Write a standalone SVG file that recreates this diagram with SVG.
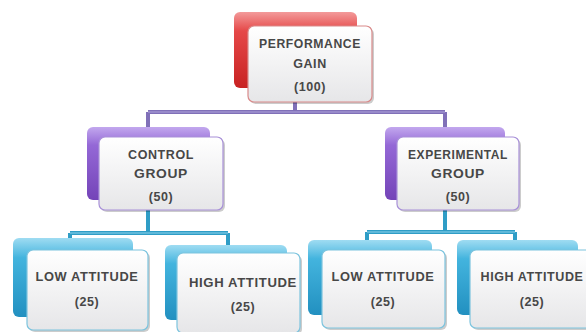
<svg xmlns="http://www.w3.org/2000/svg" width="586" height="332" viewBox="0 0 586 332">
<defs>
<linearGradient id="gRed" x1="0" y1="0" x2="0" y2="1"><stop offset="0" stop-color="#f39a9a"/><stop offset="0.25" stop-color="#e54848"/><stop offset="1" stop-color="#c82222"/></linearGradient>
<linearGradient id="gPur" x1="0" y1="0" x2="0" y2="1"><stop offset="0" stop-color="#c2a8ee"/><stop offset="0.25" stop-color="#9468d6"/><stop offset="1" stop-color="#7444b8"/></linearGradient>
<linearGradient id="gCyan" x1="0" y1="0" x2="0" y2="1"><stop offset="0" stop-color="#9fdcf2"/><stop offset="0.25" stop-color="#43b4de"/><stop offset="1" stop-color="#2290c0"/></linearGradient>
<linearGradient id="gFront" x1="0" y1="0" x2="0" y2="1"><stop offset="0" stop-color="#ffffff"/><stop offset="1" stop-color="#e6e6e8"/></linearGradient>
<style>
.front{fill:url(#gFront);stroke-width:1.2}
.shadow{fill:#000;opacity:0.2}
.red{fill:url(#gRed)}
.pur{fill:url(#gPur)}
.cyan{fill:url(#gCyan)}
.fr{stroke:#d98a8a}
.fp{stroke:#a890d8}
.fc{stroke:#7cc4de}
text{font-family:"Liberation Sans",Arial,sans-serif;font-size:12.5px;font-weight:bold;fill:#474747;text-anchor:middle;letter-spacing:0.6px}
.cp{fill:none;stroke:#8070b8;stroke-width:4}
.cpi{fill:none;stroke:#b0a4dc;stroke-width:1.2}
.cc{fill:none;stroke:#2f9dc6;stroke-width:4}
.cci{fill:none;stroke:#8fd4ec;stroke-width:1.2}
</style>
</defs>

<g id="connectors">
<path class="cp" d="M295 102 V112 M148 112 H445 M148 112 V128 M445 112 V128"/>
<path class="cpi" d="M148 112 H445"/>
<path class="cc" d="M148 210 V233 M70 233 H228 M70 233 V240 M228 233 V246 M445 210 V232 M367 232 H515 M367 232 V241 M515 232 V241"/>
<path class="cci" d="M70 233 H228 M367 232 H515"/>
</g>

<g id="performance-gain">
<rect class="red" x="234" y="12" width="123" height="76" rx="6"/>
<rect class="shadow" x="250" y="28" width="124" height="76" rx="6"/>
<rect class="front fr" x="248" y="26" width="124" height="76" rx="6"/>
<text x="310" y="48" textLength="102" lengthAdjust="spacingAndGlyphs">PERFORMANCE</text>
<text x="310" y="68">GAIN</text>
<text x="310" y="91">(100)</text>
</g>

<g id="control-group">
<rect class="pur" x="87" y="127" width="123" height="73" rx="6"/>
<rect class="shadow" x="101" y="139" width="124" height="73" rx="6"/>
<rect class="front fp" x="99" y="137" width="124" height="73" rx="6"/>
<text x="161" y="159" textLength="66" lengthAdjust="spacingAndGlyphs">CONTROL</text>
<text x="161" y="178" textLength="54" lengthAdjust="spacingAndGlyphs">GROUP</text>
<text x="161" y="201">(50)</text>
</g>

<g id="experimental-group">
<rect class="pur" x="385" y="127" width="120" height="73" rx="6"/>
<rect class="shadow" x="399" y="139" width="122" height="73" rx="6"/>
<rect class="front fp" x="397" y="137" width="122" height="73" rx="6"/>
<text x="458" y="159" textLength="100" lengthAdjust="spacingAndGlyphs">EXPERIMENTAL</text>
<text x="458" y="178" textLength="54" lengthAdjust="spacingAndGlyphs">GROUP</text>
<text x="458" y="201">(50)</text>
</g>

<g id="control-low">
<rect class="cyan" x="13" y="238" width="120" height="79" rx="6"/>
<rect class="shadow" x="29" y="252" width="121" height="80" rx="6"/>
<rect class="front fc" x="27" y="250" width="121" height="80" rx="6"/>
<text x="87" y="281" textLength="103" lengthAdjust="spacingAndGlyphs">LOW ATTITUDE</text>
<text x="87" y="306">(25)</text>
</g>

<g id="control-high">
<rect class="cyan" x="165" y="245" width="122" height="75" rx="6"/>
<rect class="shadow" x="179" y="255" width="123" height="80" rx="6"/>
<rect class="front fc" x="177" y="253" width="123" height="80" rx="6"/>
<text x="243" y="287" textLength="108" lengthAdjust="spacingAndGlyphs">HIGH ATTITUDE</text>
<text x="243" y="311">(25)</text>
</g>

<g id="experimental-low">
<rect class="cyan" x="308" y="240" width="124" height="75" rx="6"/>
<rect class="shadow" x="324" y="252" width="123" height="78" rx="6"/>
<rect class="front fc" x="322" y="250" width="123" height="78" rx="6"/>
<text x="383" y="281" textLength="103" lengthAdjust="spacingAndGlyphs">LOW ATTITUDE</text>
<text x="383" y="306">(25)</text>
</g>

<g id="experimental-high">
<rect class="cyan" x="457" y="240" width="121" height="75" rx="6"/>
<rect class="shadow" x="472" y="252" width="122" height="78" rx="6"/>
<rect class="front fc" x="470" y="250" width="122" height="78" rx="6"/>
<text x="532" y="281" textLength="103" lengthAdjust="spacingAndGlyphs">HIGH ATTITUDE</text>
<text x="532" y="306">(25)</text>
</g>
</svg>
